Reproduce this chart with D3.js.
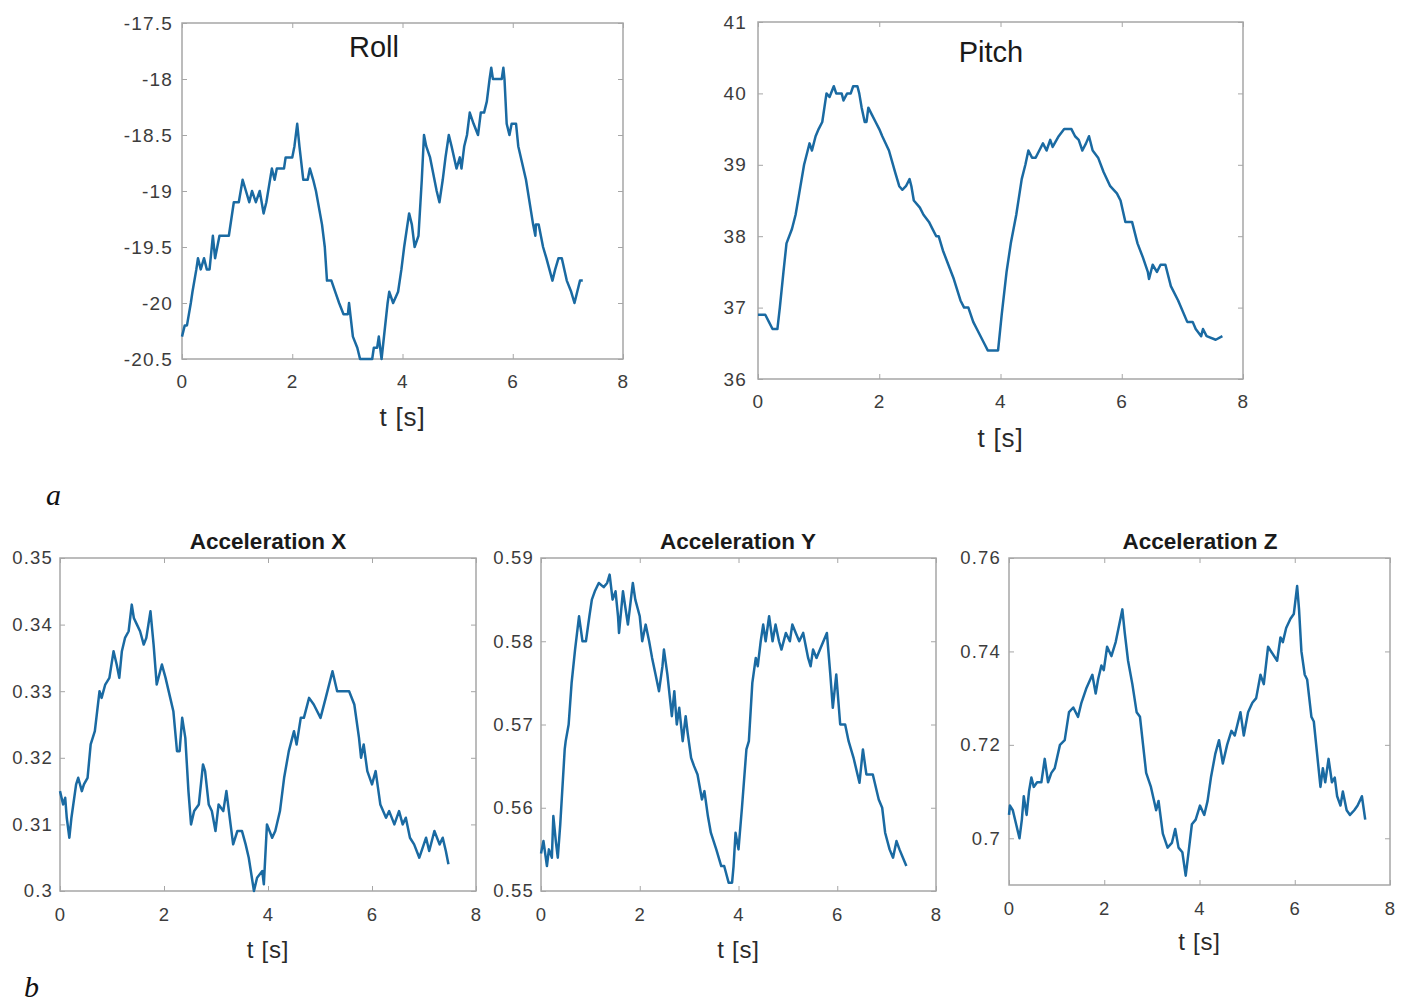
<!DOCTYPE html>
<html>
<head>
<meta charset="utf-8">
<script src="https://cdn.jsdelivr.net/npm/d3@7"></script>
<style>
  body { margin: 0; background: #fff; }
  svg text { font-family: "Liberation Sans", Arial, sans-serif; }
</style>
</head>
<body>
<svg id="fig" width="1407" height="1003"></svg>
<script>
// ---- data ----
const xTicks = [0, 2, 4, 6, 8];

const rollT = [0,0.05,0.09,0.16,0.19,0.26,0.29,0.34,0.4,0.45,0.5,0.56,0.6,0.64,0.68,0.85,0.94,1.03,1.1,1.16,1.22,1.27,1.34,1.41,1.48,1.53,1.63,1.68,1.72,1.85,1.88,2.0,2.04,2.09,2.13,2.2,2.28,2.32,2.38,2.43,2.54,2.59,2.63,2.71,2.78,2.85,2.93,3.01,3.03,3.1,3.18,3.23,3.45,3.48,3.54,3.57,3.62,3.73,3.76,3.83,3.92,3.98,4.03,4.12,4.17,4.22,4.29,4.35,4.39,4.43,4.5,4.62,4.67,4.73,4.78,4.84,4.89,4.98,5.04,5.07,5.12,5.17,5.22,5.29,5.37,5.42,5.48,5.53,5.58,5.61,5.64,5.8,5.83,5.85,5.89,5.94,5.98,6.06,6.1,6.24,6.37,6.41,6.42,6.47,6.55,6.61,6.72,6.77,6.83,6.89,6.98,7.06,7.12,7.17,7.22,7.27];
const rollV = [-20.3,-20.2,-20.2,-20.0,-19.9,-19.7,-19.6,-19.7,-19.6,-19.7,-19.7,-19.4,-19.6,-19.5,-19.4,-19.4,-19.1,-19.1,-18.9,-19.0,-19.1,-19.0,-19.1,-19.0,-19.2,-19.1,-18.8,-18.9,-18.8,-18.8,-18.7,-18.7,-18.6,-18.4,-18.6,-18.9,-18.9,-18.8,-18.9,-19.0,-19.3,-19.5,-19.8,-19.8,-19.9,-20.0,-20.1,-20.1,-20.0,-20.3,-20.4,-20.5,-20.5,-20.4,-20.4,-20.3,-20.5,-20.0,-19.9,-20.0,-19.9,-19.7,-19.5,-19.2,-19.3,-19.5,-19.4,-18.9,-18.5,-18.6,-18.7,-19.0,-19.1,-18.9,-18.7,-18.5,-18.6,-18.8,-18.7,-18.8,-18.6,-18.5,-18.3,-18.4,-18.5,-18.3,-18.3,-18.2,-18.0,-17.9,-18.0,-18.0,-17.9,-18.0,-18.4,-18.5,-18.4,-18.4,-18.6,-18.9,-19.3,-19.4,-19.3,-19.3,-19.5,-19.6,-19.8,-19.7,-19.6,-19.6,-19.8,-19.9,-20.0,-19.9,-19.8,-19.8];
const rollTicks = [-20.5, -20, -19.5, -19, -18.5, -18, -17.5];

const pitchT = [0,0.12,0.18,0.24,0.32,0.36,0.42,0.47,0.56,0.62,0.68,0.76,0.82,0.85,0.89,0.95,1.0,1.06,1.13,1.18,1.25,1.29,1.38,1.41,1.47,1.53,1.57,1.64,1.67,1.71,1.76,1.79,1.82,1.88,1.94,2.0,2.05,2.16,2.26,2.33,2.38,2.44,2.5,2.53,2.57,2.67,2.73,2.82,2.88,2.94,2.98,3.05,3.14,3.23,3.34,3.4,3.47,3.55,3.61,3.73,3.79,3.96,4.02,4.1,4.17,4.26,4.35,4.41,4.46,4.52,4.58,4.64,4.7,4.76,4.82,4.86,4.96,5.05,5.17,5.23,5.29,5.35,5.41,5.46,5.52,5.61,5.7,5.81,5.92,5.98,6.06,6.17,6.26,6.35,6.43,6.45,6.51,6.58,6.64,6.72,6.81,6.93,7.08,7.17,7.22,7.31,7.34,7.4,7.55,7.66];
const pitchV = [36.9,36.9,36.8,36.7,36.7,37.0,37.5,37.9,38.1,38.3,38.6,39.0,39.2,39.3,39.2,39.4,39.5,39.6,40.0,39.95,40.1,40.0,40.0,39.9,40.0,40.0,40.1,40.1,40.0,39.8,39.6,39.6,39.8,39.7,39.6,39.5,39.4,39.2,38.9,38.7,38.65,38.7,38.8,38.7,38.5,38.4,38.3,38.2,38.1,38.0,38.0,37.8,37.6,37.4,37.1,37.0,37.0,36.8,36.7,36.5,36.4,36.4,36.9,37.5,37.9,38.3,38.8,39.0,39.2,39.1,39.1,39.2,39.3,39.2,39.35,39.25,39.4,39.5,39.5,39.4,39.35,39.2,39.3,39.4,39.2,39.1,38.9,38.7,38.6,38.5,38.2,38.2,37.9,37.7,37.5,37.4,37.6,37.5,37.6,37.6,37.3,37.1,36.8,36.8,36.7,36.6,36.7,36.6,36.55,36.6];
const pitchTicks = [36, 37, 38, 39, 40, 41];

const accXT = [0,0.06,0.1,0.13,0.18,0.22,0.31,0.35,0.42,0.46,0.53,0.59,0.67,0.76,0.8,0.87,0.95,1.03,1.09,1.14,1.19,1.25,1.32,1.38,1.42,1.48,1.54,1.61,1.66,1.74,1.8,1.86,1.96,2.03,2.12,2.18,2.25,2.3,2.35,2.41,2.47,2.52,2.58,2.67,2.75,2.79,2.86,2.92,2.99,3.05,3.14,3.2,3.28,3.33,3.41,3.5,3.57,3.63,3.73,3.79,3.89,3.92,3.98,4.08,4.14,4.23,4.31,4.4,4.5,4.55,4.63,4.69,4.79,4.88,5.01,5.11,5.24,5.33,5.43,5.56,5.66,5.75,5.79,5.84,5.91,6.0,6.07,6.16,6.27,6.33,6.43,6.52,6.59,6.65,6.73,6.81,6.91,7.04,7.1,7.2,7.3,7.36,7.42,7.47];
const accXV = [0.315,0.313,0.314,0.311,0.308,0.311,0.316,0.317,0.315,0.316,0.317,0.322,0.324,0.330,0.329,0.331,0.332,0.336,0.334,0.332,0.336,0.338,0.339,0.343,0.341,0.340,0.339,0.337,0.338,0.342,0.337,0.331,0.334,0.332,0.329,0.327,0.321,0.321,0.326,0.323,0.315,0.310,0.312,0.313,0.319,0.318,0.313,0.312,0.309,0.313,0.312,0.315,0.310,0.307,0.309,0.309,0.307,0.305,0.300,0.302,0.303,0.301,0.310,0.308,0.309,0.312,0.317,0.321,0.324,0.322,0.326,0.326,0.329,0.328,0.326,0.329,0.333,0.330,0.330,0.330,0.328,0.323,0.320,0.322,0.318,0.316,0.318,0.313,0.311,0.312,0.310,0.312,0.310,0.311,0.308,0.307,0.305,0.308,0.306,0.309,0.307,0.308,0.306,0.304];
const accXTicks = [0.3, 0.31, 0.32, 0.33, 0.34, 0.35];

const accYT = [0,0.05,0.12,0.16,0.22,0.25,0.3,0.34,0.39,0.48,0.5,0.56,0.62,0.69,0.77,0.84,0.91,0.98,1.03,1.09,1.17,1.27,1.34,1.39,1.45,1.51,1.56,1.58,1.66,1.71,1.76,1.86,1.91,2.0,2.05,2.12,2.19,2.25,2.32,2.39,2.46,2.49,2.56,2.65,2.7,2.75,2.8,2.87,2.93,2.97,3.04,3.1,3.17,3.26,3.31,3.38,3.44,3.55,3.65,3.71,3.8,3.87,3.9,3.94,4.0,4.07,4.16,4.21,4.28,4.35,4.39,4.45,4.5,4.55,4.62,4.69,4.75,4.82,4.87,4.96,5.04,5.09,5.16,5.23,5.31,5.41,5.46,5.51,5.58,5.65,5.79,5.86,5.91,5.98,6.06,6.16,6.23,6.33,6.45,6.52,6.59,6.72,6.84,6.91,6.97,7.06,7.13,7.2,7.26,7.33,7.4];
const accYV = [0.5545,0.556,0.553,0.555,0.554,0.559,0.556,0.554,0.558,0.567,0.568,0.570,0.575,0.579,0.583,0.580,0.580,0.583,0.585,0.586,0.587,0.5865,0.587,0.588,0.585,0.586,0.583,0.581,0.586,0.584,0.582,0.587,0.585,0.583,0.580,0.582,0.580,0.578,0.576,0.574,0.577,0.579,0.576,0.571,0.574,0.570,0.572,0.568,0.571,0.569,0.566,0.565,0.564,0.561,0.562,0.559,0.557,0.555,0.553,0.553,0.551,0.551,0.553,0.557,0.555,0.560,0.567,0.568,0.575,0.578,0.577,0.580,0.582,0.580,0.583,0.580,0.582,0.580,0.579,0.581,0.580,0.582,0.581,0.580,0.581,0.578,0.577,0.579,0.578,0.579,0.581,0.576,0.572,0.576,0.570,0.570,0.568,0.566,0.563,0.567,0.564,0.564,0.561,0.560,0.557,0.555,0.554,0.556,0.555,0.554,0.553];
const accYTicks = [0.55, 0.56, 0.57, 0.58, 0.59];

const accZT = [0,0.02,0.08,0.15,0.22,0.27,0.31,0.37,0.42,0.47,0.52,0.59,0.68,0.75,0.82,0.89,0.96,1.07,1.17,1.26,1.35,1.45,1.52,1.62,1.75,1.82,1.87,1.94,1.99,2.06,2.15,2.24,2.38,2.43,2.5,2.59,2.68,2.75,2.88,2.98,3.09,3.14,3.23,3.33,3.42,3.49,3.56,3.64,3.71,3.77,3.84,3.92,4.01,4.1,4.17,4.24,4.33,4.41,4.49,4.58,4.67,4.74,4.86,4.93,5.02,5.11,5.19,5.28,5.35,5.44,5.63,5.7,5.75,5.82,5.91,5.98,6.05,6.09,6.14,6.21,6.26,6.35,6.4,6.47,6.54,6.59,6.64,6.71,6.78,6.84,6.89,6.96,7.01,7.09,7.16,7.25,7.32,7.41,7.48];
const accZV = [0.705,0.707,0.706,0.703,0.700,0.704,0.709,0.705,0.710,0.713,0.711,0.712,0.712,0.717,0.712,0.714,0.715,0.720,0.721,0.727,0.728,0.726,0.729,0.732,0.735,0.731,0.734,0.737,0.736,0.741,0.739,0.742,0.749,0.744,0.738,0.733,0.727,0.726,0.714,0.711,0.706,0.708,0.701,0.698,0.699,0.702,0.698,0.697,0.692,0.697,0.703,0.704,0.707,0.705,0.708,0.713,0.718,0.721,0.716,0.720,0.723,0.722,0.727,0.722,0.727,0.729,0.730,0.735,0.733,0.741,0.738,0.743,0.742,0.745,0.747,0.748,0.754,0.749,0.740,0.735,0.734,0.726,0.725,0.718,0.711,0.715,0.712,0.717,0.712,0.713,0.709,0.707,0.710,0.706,0.705,0.706,0.707,0.709,0.704];
const accZTicks = [0.7, 0.72, 0.74, 0.76];

// ---- layout of the five panels ----
const panels = [
  { t: rollT, v: rollV, yDomain: [-20.5, -17.5], yTicks: rollTicks,
    box: [182, 623, 23, 359], title: "Roll", titleBold: false, titleSize: 29, titleX: 374, titleY: 57,
    tickSize: 19, yPad: 9, xPad: 16, labelSize: 26, labelY: 426 },
  { t: pitchT, v: pitchV, yDomain: [36, 41], yTicks: pitchTicks,
    box: [758, 1243, 22, 379], title: "Pitch", titleBold: false, titleSize: 29, titleX: 991, titleY: 62,
    tickSize: 19, yPad: 11, xPad: 16, labelSize: 26, labelY: 447 },
  { t: accXT, v: accXV, yDomain: [0.3, 0.35], yTicks: accXTicks,
    box: [60, 476, 558, 891], title: "Acceleration X", titleBold: true, titleSize: 22.5, titleX: 268, titleY: 549,
    tickSize: 18.5, yPad: 7, xPad: 17, labelSize: 24, labelY: 958 },
  { t: accYT, v: accYV, yDomain: [0.55, 0.59], yTicks: accYTicks,
    box: [541, 936, 558, 891], title: "Acceleration Y", titleBold: true, titleSize: 22.5, titleX: 738, titleY: 549,
    tickSize: 18.5, yPad: 7, xPad: 17, labelSize: 24, labelY: 958 },
  { t: accZT, v: accZV, yDomain: [0.69, 0.76], yTicks: accZTicks,
    box: [1009, 1390, 558, 885], title: "Acceleration Z", titleBold: true, titleSize: 22.5, titleX: 1200, titleY: 549,
    tickSize: 18.5, yPad: 8, xPad: 17, labelSize: 24, labelY: 950 }
];

const svg = d3.select("#fig");
const frameColor = "#a6a6a6";
const textColor = "#3c3c3c";
const lineColor = "#1a6aa2";

panels.forEach(p => {
  const [x0, x1, y0, y1] = p.box;
  const x = d3.scaleLinear().domain([0, 8]).range([x0, x1]);
  const y = d3.scaleLinear().domain(p.yDomain).range([y1, y0]);
  const g = svg.append("g");

  // inward ticks on all four sides, labels only on left/bottom
  const styleAxis = sel => {
    sel.select(".domain").remove();
    sel.selectAll(".tick line").attr("stroke", frameColor).attr("stroke-width", 1);
    sel.selectAll(".tick text").attr("fill", textColor).attr("font-size", p.tickSize)
      .attr("letter-spacing", 1.2);
  };
  g.append("g").attr("transform", `translate(0,${y1})`)
    .call(d3.axisBottom(x).tickValues(xTicks).tickSizeInner(-5).tickPadding(p.xPad).tickFormat(d3.format("d")))
    .call(styleAxis);
  g.append("g").attr("transform", `translate(0,${y0})`)
    .call(d3.axisTop(x).tickValues(xTicks).tickSizeInner(-5).tickFormat(""))
    .call(styleAxis);
  g.append("g").attr("transform", `translate(${x0},0)`)
    .call(d3.axisLeft(y).tickValues(p.yTicks).tickSizeInner(-5).tickPadding(p.yPad).tickFormat(d => String(+d.toFixed(3))))
    .call(styleAxis);
  g.append("g").attr("transform", `translate(${x1},0)`)
    .call(d3.axisRight(y).tickValues(p.yTicks).tickSizeInner(-5).tickFormat(""))
    .call(styleAxis);

  g.append("rect")
    .attr("x", x0).attr("y", y0)
    .attr("width", x1 - x0).attr("height", y1 - y0)
    .attr("fill", "none").attr("stroke", frameColor).attr("stroke-width", 1.5);

  const pts = p.t.map((t, i) => [t, p.v[i]]);
  g.append("path")
    .datum(pts)
    .attr("fill", "none")
    .attr("stroke", lineColor)
    .attr("stroke-width", 2.5)
    .attr("stroke-linejoin", "round")
    .attr("d", d3.line().x(d => x(d[0])).y(d => y(d[1])));

  g.append("text")
    .attr("x", p.titleX).attr("y", p.titleY)
    .attr("text-anchor", "middle")
    .attr("font-size", p.titleSize)
    .attr("font-weight", p.titleBold ? "bold" : "normal")
    .attr("fill", "#1a1a1a")
    .text(p.title);

  g.append("text")
    .attr("x", (x0 + x1) / 2).attr("y", p.labelY)
    .attr("text-anchor", "middle")
    .attr("font-size", p.labelSize)
    .attr("letter-spacing", 0.8)
    .attr("fill", "#2a2a2a")
    .text("t [s]");
});

// sub-figure letters
svg.append("text").attr("x", 46).attr("y", 505)
  .style("font-family", "'Liberation Serif', serif").style("font-style", "italic")
  .attr("font-size", 30).attr("fill", "#111").text("a");
svg.append("text").attr("x", 24).attr("y", 997)
  .style("font-family", "'Liberation Serif', serif").style("font-style", "italic")
  .attr("font-size", 30).attr("fill", "#111").text("b");
</script>
</body>
</html>
